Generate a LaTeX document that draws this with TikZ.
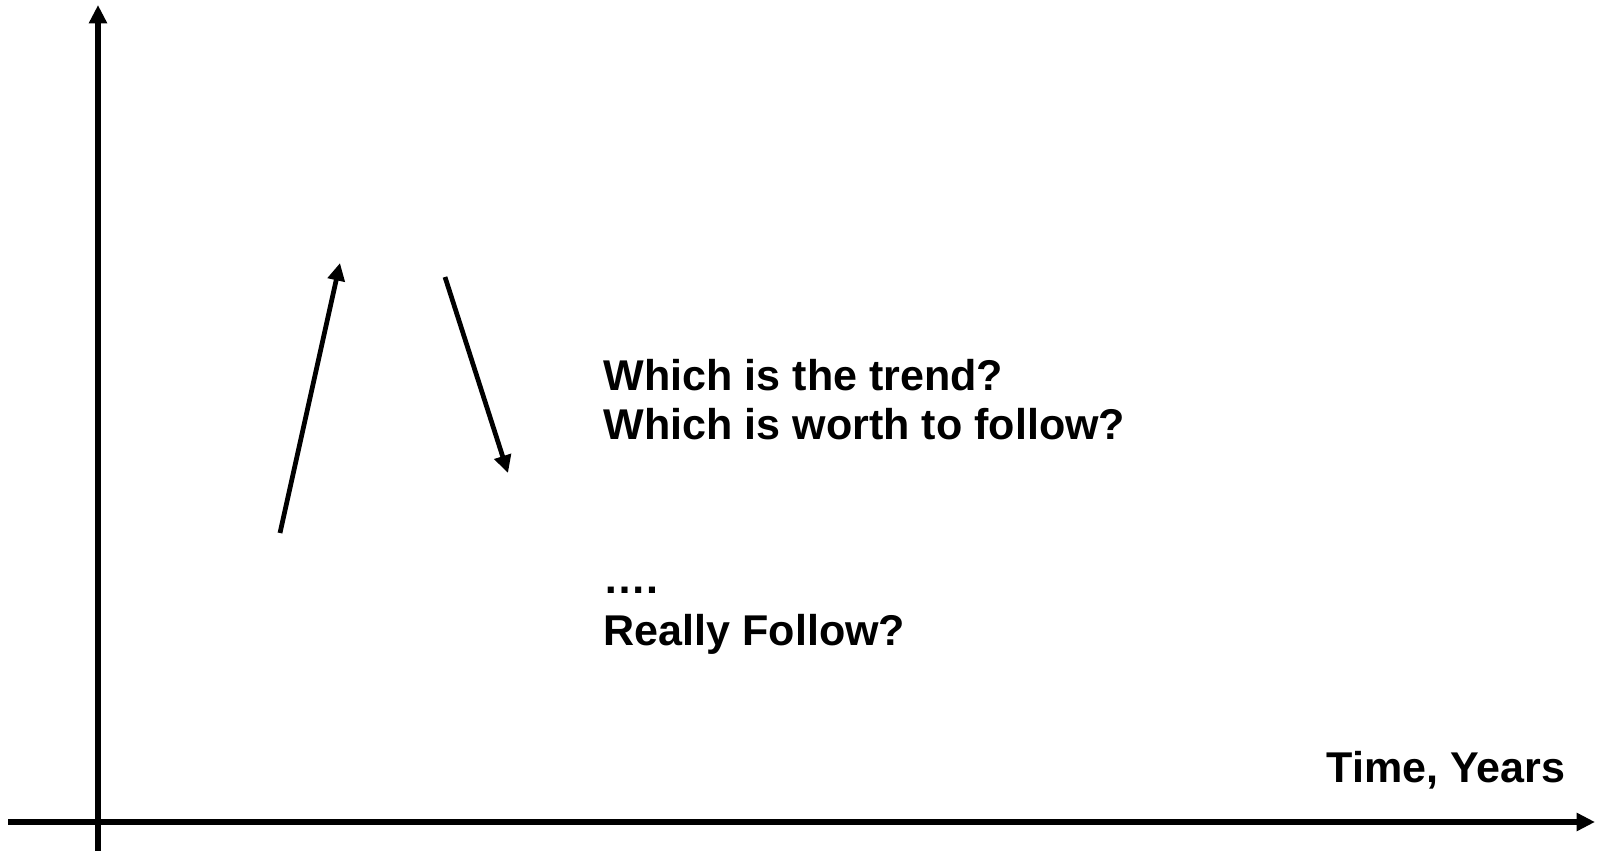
\documentclass[tikz,border=0pt]{standalone}
\usepackage{fontspec}
\setmainfont{Liberation Sans}
\usepackage{tikz}
\usetikzlibrary{arrows.meta}
\tikzset{
  axis/.style={black,line width=1.45pt,-{Triangle[length=5.2pt,width=4.9pt]}},
  trend/.style={black,line width=1.35pt,-{Triangle[length=5pt,width=4.8pt]}},
  question/.style={anchor=base west,inner sep=0pt,font=\bfseries\fontsize{12.25}{14}\selectfont}
}

\begin{document}
\begin{tikzpicture}[x=0.1mm,y=-0.1mm]
  \useasboundingbox (0,0) rectangle (1603,851);
  % axes
  \coordinate (origin) at (98,851);
  \coordinate (ytop) at (98,5);
  \coordinate (xleft) at (8,822);
  \coordinate (xright) at (1595,822);
  \draw[axis] (origin) -- (ytop);
  \draw[axis] (xleft) -- (xright);
  % trends
  \coordinate (upstart) at (280,533);
  \coordinate (upend) at (340,263);
  \coordinate (downstart) at (445,277);
  \coordinate (downend) at (508,473);
  \draw[trend] (upstart) -- (upend);
  \draw[trend] (downstart) -- (downend);
  % questions
  \node[question] (trendq) at (603,390) {Which is the trend?};
  \node[question] (worthq) at (603,440) {Which is worth to follow?};
  \node[question] (dots) at (603,593) {….};
  \node[question] (reallyq) at (603,645) {Really Follow?};
  \node[question,anchor=base east] (timelabel) at (1566,782) {Time, Years};
\end{tikzpicture}
\end{document}
